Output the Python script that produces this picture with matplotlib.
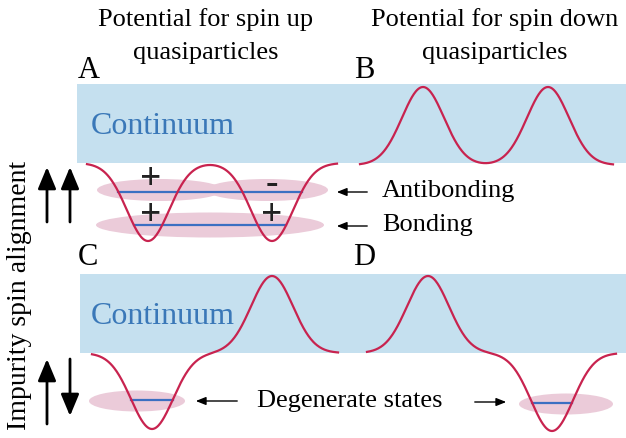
import numpy as np
import matplotlib.pyplot as plt
from matplotlib.patches import Ellipse, Rectangle

plt.rcParams['font.family'] = ['Liberation Serif', 'DejaVu Serif']

W, H = 626, 439

# potential curves, pixel units (y grows downwards)
# (x_start, x_end, baseline, [(centre, depth)])  depth > 0 is a well, < 0 a barrier
pot_A = (87, 337, 164, [(148, 78), (272, 78)])
pot_B = (360, 613, 166, [(423, -78), (548, -78)])
pot_C = (92, 338, 354, [(152, 76), (272, -77)])
pot_D = (367, 616, 354, [(428, -77), (552, 78)])
sigma = 21

# bound state levels: (curve, well indices, y)
levels = [(pot_A, [0, 1], 193), (pot_A, [0, 1], 226),
          (pot_C, [0], 401), (pot_D, [1], 404)]

# pink clouds: (cx, cy, w, h)
clouds = [(160, 191, 126, 22), (267, 191, 122, 22), (210, 226, 228, 25),
          (137, 402, 96, 21), (566, 405, 94, 21)]

# continuum bands: (x0, y_top, y_bottom)
bands = [(77, 85, 164), (80, 275, 354)]

red = '#c8234f'
blue_line = '#3b6fc2'
band_col = '#c5e0ef'
cloud_col = '#ebcbd9'


def curve(p):
    x0, x1, base, bumps = p
    x = np.linspace(x0, x1, 400)
    y = np.full_like(x, base, dtype=float)
    for c, d in bumps:
        y += d * np.exp(-(x - c) ** 2 / (2 * sigma ** 2))
    return x, y


def crossing(p, k, y):
    x0, x1, base, bumps = p
    c, d = bumps[k]
    g = (y - base) / d
    dx = sigma * np.sqrt(2 * np.log(1 / g))
    return c - dx, c + dx


fig = plt.figure(figsize=(6.26, 4.39), dpi=100)
ax = fig.add_axes([0, 0, 1, 1])
ax.set_xlim(0, W)
ax.set_ylim(H, 0)
ax.axis('off')

for x0, yt, yb in bands:
    ax.add_patch(Rectangle((x0, yt), W - x0, yb - yt, color=band_col, lw=0, zorder=0))

for cx, cy, w, h in clouds:
    ax.add_patch(Ellipse((cx, cy), w, h, color=cloud_col, lw=0, zorder=1))

for p, wells, y in levels:
    xa = crossing(p, wells[0], y)[0]
    xb = crossing(p, wells[-1], y)[1]
    ax.plot([xa, xb], [y, y], color=blue_line, lw=1.6, zorder=2)

for p in (pot_A, pot_B, pot_C, pot_D):
    x, y = curve(p)
    ax.plot(x, y, color=red, lw=1.6, zorder=3)

# titles and panel letters
ax.text(206, 36, 'Potential for spin up\nquasiparticles', ha='center', va='center',
        fontsize=19, linespacing=1.6)
ax.text(495, 36, 'Potential for spin down\nquasiparticles', ha='center', va='center',
        fontsize=19, linespacing=1.6)
for lab, x, y in [('A', 89, 70), ('B', 364, 70), ('C', 88, 258), ('D', 364, 258)]:
    ax.text(x, y, lab, ha='center', va='center', fontsize=22)

for y in (127, 317):
    ax.text(91, y, 'Continuum', ha='left', va='center', fontsize=23, color='#3a78b8')

# signs of the wavefunctions
for s, x, y in [('+', 151, 180), ('+', 151, 216), ('-', 272, 184), ('+', 272, 216)]:
    ax.text(x, y, s, ha='center', va='center', fontsize=27, fontweight='bold', color='#222222')

# level labels
thin = dict(arrowstyle='-|>,head_length=0.5,head_width=0.2', lw=1.0, color='k', mutation_scale=12)
ax.annotate('', xy=(334, 193), xytext=(370, 193), arrowprops=thin)
ax.annotate('', xy=(334, 227), xytext=(370, 227), arrowprops=thin)
ax.text(382, 191, 'Antibonding', ha='left', va='center', fontsize=19)
ax.text(382, 225, 'Bonding', ha='left', va='center', fontsize=19)
ax.annotate('', xy=(193, 402), xytext=(240, 402), arrowprops=thin)
ax.annotate('', xy=(509, 403), xytext=(472, 403), arrowprops=thin)
ax.text(350, 401, 'Degenerate states', ha='center', va='center', fontsize=19)

# impurity spin arrows
thick = dict(arrowstyle='-|>,head_length=0.6,head_width=0.25', lw=2.0, color='k',
             mutation_scale=22, shrinkA=0, shrinkB=0)
for x, y0, y1 in [(47, 223, 168), (70, 223, 168), (47, 425, 360), (70, 360, 417)]:
    ax.annotate('', xy=(x, y1), xytext=(x, y0), arrowprops=thick)
ax.text(20, 295, 'Impurity spin alignment', rotation=90, ha='center', va='center', fontsize=20)

fig.savefig('out.png', dpi=100)
